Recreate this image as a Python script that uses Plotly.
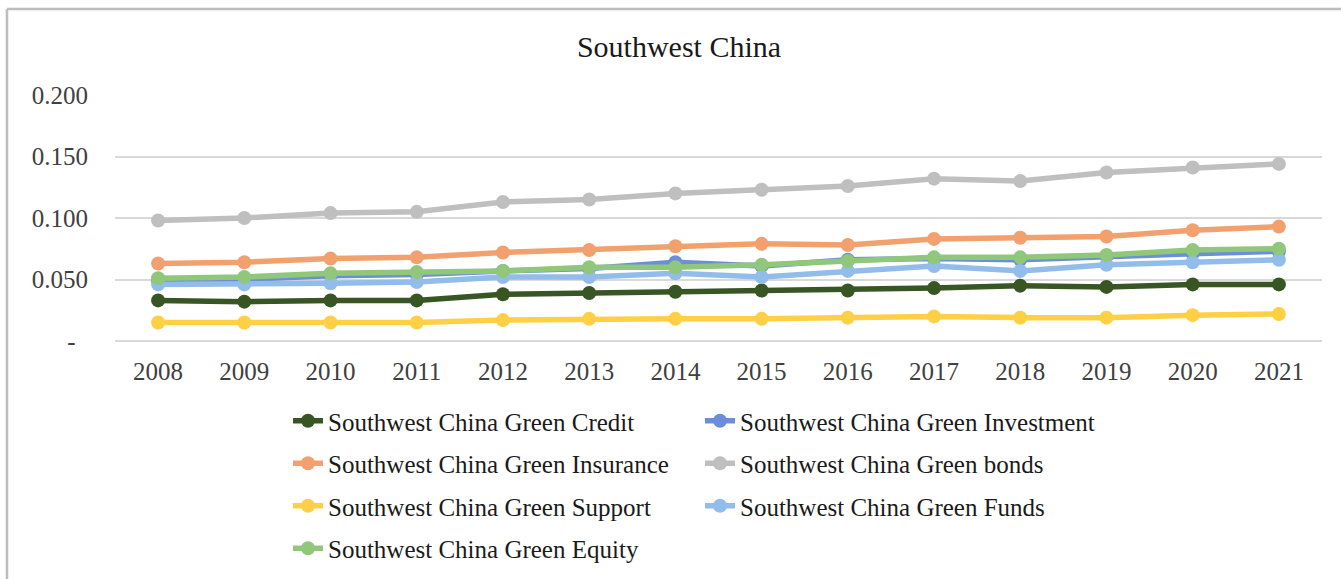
import plotly.graph_objects as go

years = ["2008", "2009", "2010", "2011", "2012", "2013", "2014",
         "2015", "2016", "2017", "2018", "2019", "2020", "2021"]

green_credit = [0.033, 0.032, 0.033, 0.033, 0.038, 0.039, 0.040, 0.041, 0.041, 0.043, 0.045, 0.044, 0.046, 0.046]
green_investment = [0.049, 0.050, 0.053, 0.054, 0.057, 0.059, 0.064, 0.061, 0.066, 0.067, 0.066, 0.069, 0.071, 0.073]
green_insurance = [0.063, 0.064, 0.067, 0.068, 0.072, 0.074, 0.077, 0.079, 0.078, 0.083, 0.084, 0.085, 0.090, 0.093]
green_bonds = [0.098, 0.100, 0.104, 0.105, 0.113, 0.115, 0.120, 0.123, 0.126, 0.132, 0.130, 0.137, 0.141, 0.144]
green_support = [0.015, 0.015, 0.015, 0.015, 0.017, 0.018, 0.018, 0.018, 0.019, 0.020, 0.019, 0.019, 0.021, 0.022]
green_funds = [0.046, 0.046, 0.047, 0.048, 0.052, 0.052, 0.055, 0.052, 0.057, 0.061, 0.057, 0.062, 0.064, 0.066]
green_equity = [0.051, 0.052, 0.055, 0.056, 0.057, 0.060, 0.060, 0.062, 0.065, 0.068, 0.068, 0.070, 0.074, 0.075]

y_tickvals = [0, 0.05, 0.10, 0.15, 0.20]
y_ticktext = ["-\u00a0\u00a0", "0.050", "0.100", "0.150", "0.200"]

series = [
    ("Southwest China Green Credit", green_credit, "#375623", "legend"),
    ("Southwest China Green Investment", green_investment, "#6A8FD8", "legend2"),
    ("Southwest China Green Insurance", green_insurance, "#F2A06E", "legend"),
    ("Southwest China Green bonds", green_bonds, "#BFBFBF", "legend2"),
    ("Southwest China Green Support", green_support, "#FFD045", "legend"),
    ("Southwest China Green Funds", green_funds, "#92BDEA", "legend2"),
    ("Southwest China Green Equity", green_equity, "#90C77A", "legend"),
]

W, H = 1341, 579
L, R, T, B = 115, 19, 95, 238
pw, ph = W - L - R, H - T - B

def px(x):
    return (x - L) / pw

def py(y):
    return (H - B - y) / ph

fig = go.Figure()
for i, (name, vals, color, leg) in enumerate(series):
    fig.add_trace(go.Scatter(
        x=years, y=vals, name=name, mode="lines+markers",
        line=dict(color=color, width=5.5),
        marker=dict(color=color, size=14),
        legend=leg, legendgroup="g%d" % i,
    ))

font_family = "Liberation Serif, Times New Roman, serif"
legend_common = dict(
    orientation="v", xanchor="left", yanchor="top",
    font=dict(family=font_family, size=25, color="#1a1a1a"),
    bgcolor="rgba(0,0,0,0)", tracegroupgap=7,
    itemwidth=30,
)

fig.update_layout(
    width=W, height=H,
    margin=dict(l=L, r=R, t=T, b=B, autoexpand=False),
    paper_bgcolor="white", plot_bgcolor="white",
    title=dict(text="Southwest China", x=679 / W, xref="container", xanchor="center",
               y=1 - 46 / H, yref="container", yanchor="middle",
               font=dict(family=font_family, size=30, color="#1a1a1a")),
    xaxis=dict(type="category", range=[-0.5, 13.5], showgrid=False, zeroline=False,
               showline=False, ticks="", ticklabelstandoff=13,
               tickfont=dict(family=font_family, size=25, color="#404040")),
    yaxis=dict(range=[0, 0.2], tickvals=y_tickvals, ticktext=y_ticktext,
               showgrid=True, gridcolor="#D9D9D9", gridwidth=1.5,
               zeroline=True, zerolinecolor="#D9D9D9", zerolinewidth=1.5,
               showline=False, ticks="", ticklabelstandoff=26,
               tickfont=dict(family=font_family, size=25, color="#404040")),
    legend=dict(x=px(288), y=py(398), **legend_common),
    legend2=dict(x=px(700), y=py(398), **legend_common),
    showlegend=True,
)

# outer frame (top and left edges visible)
fig.add_shape(type="line", xref="paper", yref="paper",
              x0=px(7), x1=px(W + 5), y0=py(9), y1=py(9),
              line=dict(color="#BDBDBD", width=2.5))
fig.add_shape(type="line", xref="paper", yref="paper",
              x0=px(7), x1=px(7), y0=py(9), y1=py(H + 5),
              line=dict(color="#BDBDBD", width=2.5))

fig.write_html("out.html")
